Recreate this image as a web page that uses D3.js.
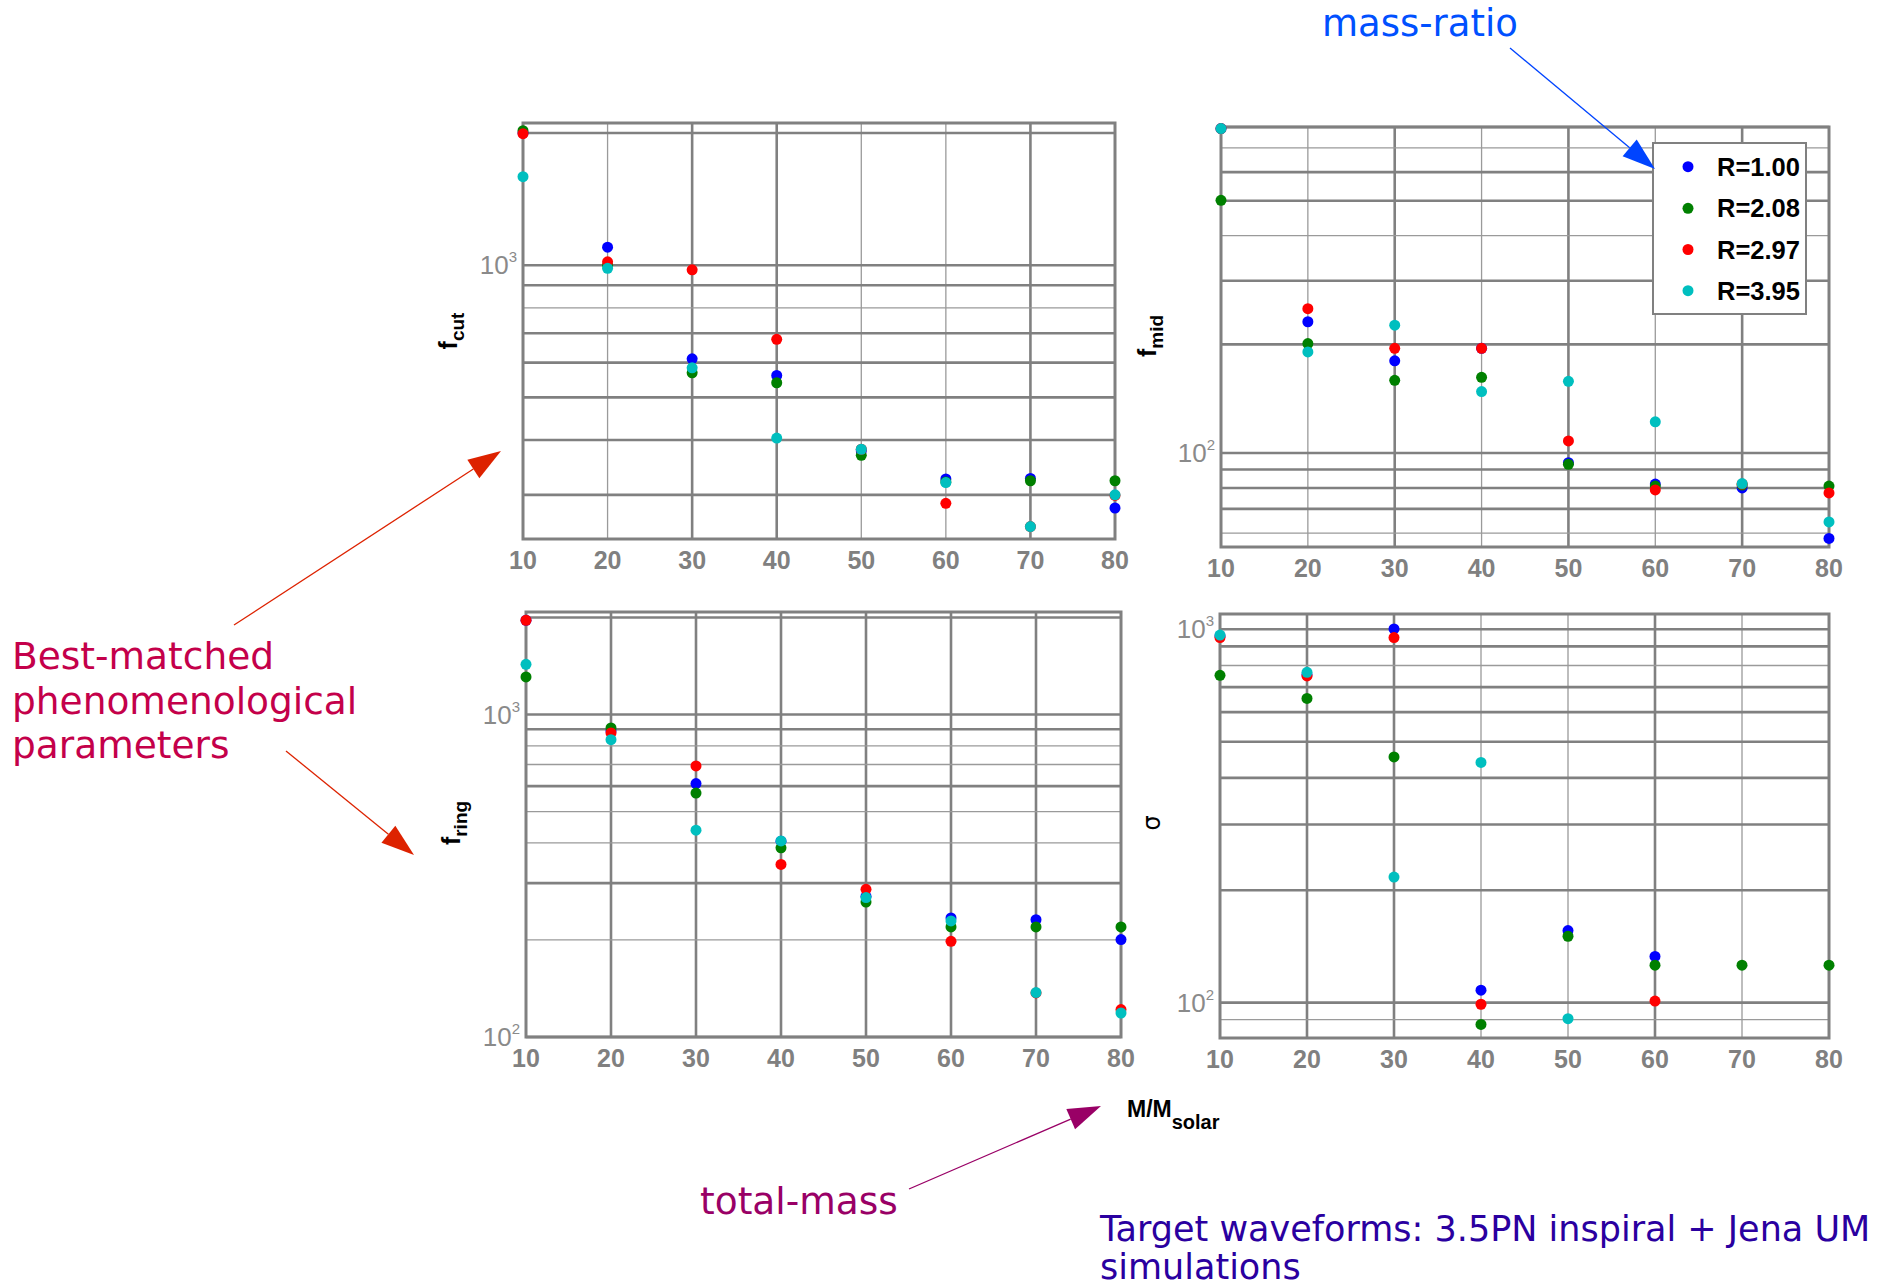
<!DOCTYPE html>
<html>
<head>
<meta charset="utf-8">
<script src="https://cdn.jsdelivr.net/npm/d3@7"></script>
<style>
  html, body { margin: 0; padding: 0; background: #ffffff; }
  svg { display: block; }
</style>
</head>
<body>
<svg id="chart" width="1884" height="1286"></svg>
<script>
// ---------------- DATA ----------------
const masses = [10, 20, 30, 40, 50, 60, 70, 80];
const xTickLabels = ["10", "20", "30", "40", "50", "60", "70", "80"];
const seriesNames = ["R=1.00", "R=2.08", "R=2.97", "R=3.95"];

// f_cut
const fcutR100 = [2000, 1099, 612, 561, 378, 326, 327, 280];
const fcutR208 = [2025, 1000, 569, 540, 369, 321, 323, 323];
const fcutR297 = [1993, 1018, 976, 678, 381, 287, 254, 299];
const fcutR395 = [1591, 984, 584, 404, 381, 320, 254, 300];

// f_mid
const fmidR100 = [792, 231, 180, 195, 94, 82, 80, 58];
const fmidR208 = [501, 201, 159, 162, 93, 81, 81.5, 81];
const fmidR297 = [792, 251, 195, 195, 108, 79, 82, 77.5];
const fmidR395 = [792, 190.5, 226, 148, 158, 122, 82.3, 64.4];

// f_ring
const fringR100 = [1961, 890, 611, 405, 273, 234, 231, 200.5];
const fringR208 = [1308, 909, 571, 386, 262, 219.5, 219.5, 219.5];
const fringR297 = [1961, 877, 693, 343, 287, 198, 137, 121.6];
const fringR395 = [1432, 836, 438, 405.5, 270.6, 229, 137.3, 118.7];

// sigma
const sigmaR100 = [960, 755, 1002, 108, 156, 133, null, null];
const sigmaR208 = [753, 653, 455, 87.4, 150.6, 126, 126, 126];
const sigmaR297 = [950, 750, 950, 99, null, 101, null, null];
const sigmaR395 = [965, 767, 217, 440, 90.6, null, null, null];

// y-axis ranges (log) and decade labels
const fcutRange = [238, 2108];
const fmidRange = [54.9, 800];
const fringRange = [100, 2080];
const sigmaRange = [80.4, 1099];
const fcutDecades = [1000];
const fmidDecades = [100];
const fringDecades = [100, 1000];
const sigmaDecades = [100, 1000];

// ---------------- DRAWING ----------------
const colors = ["#0000ff", "#008000", "#ff0000", "#00bfbf"];
const svg = d3.select("#chart");
const gridCol = "#808080";
const tickFont = "'Liberation Sans', Arial, sans-serif";

const panels = [
  { box: [523, 1115, 123, 539], range: fcutRange, decades: fcutDecades,
    series: [fcutR100, fcutR208, fcutR297, fcutR395],
    thickX: [30, 40, 70], thinY: [800],
    title: "f", sub: "cut", titleX: 457, titleY: 331 },
  { box: [1221, 1829, 127, 547], range: fmidRange, decades: fmidDecades,
    series: [fmidR100, fmidR208, fmidR297, fmidR395],
    thickX: [30, 50, 70], thinY: [700, 400, 60],
    title: "f", sub: "mid", titleX: 1156, titleY: 336 },
  { box: [526, 1121, 612, 1037], range: fringRange, decades: fringDecades,
    series: [fringR100, fringR208, fringR297, fringR395],
    thickX: [20, 30, 40, 50, 60, 70], thinY: [800, 700, 500, 400, 200],
    title: "f", sub: "ring", titleX: 460, titleY: 823 },
  { box: [1220, 1829, 614, 1038], range: sigmaRange, decades: sigmaDecades,
    series: [sigmaR100, sigmaR208, sigmaR297, sigmaR395],
    thickX: [20, 30, 60], thinY: [800, 90],
    title: "σ", sub: null, titleX: 1160, titleY: 823 }
];

panels.forEach(p => {
  const [L, R, T, B] = p.box;
  const x = d3.scaleLinear().domain([masses[0], masses[masses.length - 1]]).range([L, R]);
  const y = d3.scaleLog().domain(p.range).range([B, T]);
  const g = svg.append("g");

  // vertical grid
  masses.forEach(m => {
    if (m === masses[0] || m === masses[masses.length - 1]) return;
    const thick = p.thickX.includes(m);
    g.append("line")
      .attr("x1", x(m)).attr("x2", x(m)).attr("y1", T).attr("y2", B)
      .attr("stroke", thick ? gridCol : "#9a9a9a")
      .attr("stroke-width", thick ? 2.6 : 1.3);
  });
  // horizontal grid
  y.ticks().forEach(v => {
    if (y(v) < T - 0.5 || y(v) > B + 0.5) return;
    const thin = p.thinY.some(t => Math.abs(t - v) < 1e-6);
    g.append("line")
      .attr("x1", L).attr("x2", R).attr("y1", y(v)).attr("y2", y(v))
      .attr("stroke", thin ? "#9a9a9a" : gridCol)
      .attr("stroke-width", thin ? 1.3 : 2.6);
  });
  // frame
  g.append("rect").attr("x", L).attr("y", T).attr("width", R - L).attr("height", B - T)
    .attr("fill", "none").attr("stroke", gridCol).attr("stroke-width", 3);

  // x tick labels
  masses.forEach((m, i) => {
    g.append("text").attr("x", x(m)).attr("y", B + 21)
      .attr("text-anchor", "middle").attr("dominant-baseline", "central")
      .attr("font-family", tickFont).attr("font-weight", "bold")
      .attr("font-size", 25).attr("fill", "#808080")
      .text(xTickLabels[i]);
  });

  // y decade labels
  p.decades.forEach(d => {
    const t = g.append("text").attr("x", L - 6).attr("y", y(d) + 9)
      .attr("text-anchor", "end")
      .attr("font-family", tickFont).attr("font-size", 26).attr("fill", "#8a8a8a");
    t.append("tspan").text("10");
    t.append("tspan").attr("dy", -12).attr("font-size", 15).text(String(Math.round(Math.log10(d))));
  });

  // points
  p.series.forEach((vals, si) => {
    g.append("g").selectAll("circle")
      .data(vals.map((v, i) => ({ m: masses[i], v })).filter(d => d.v != null))
      .join("circle")
      .attr("cx", d => x(d.m)).attr("cy", d => y(d.v))
      .attr("r", 5.5).attr("fill", colors[si]);
  });

  // y title
  const tt = svg.append("text")
    .attr("transform", `translate(${p.titleX},${p.titleY}) rotate(-90)`)
    .attr("text-anchor", "middle")
    .attr("font-family", tickFont).attr("fill", "#000");
  if (p.sub) {
    tt.attr("font-weight", "bold").attr("font-size", 25);
    tt.append("tspan").text(p.title);
    tt.append("tspan").attr("dy", 7).attr("font-size", 19).text(p.sub);
  } else {
    tt.attr("font-size", 24).attr("font-family", "'DejaVu Sans', sans-serif").text(p.title);
  }
});

// legend (inside f_mid panel)
const lg = svg.append("g");
lg.append("rect").attr("x", 1653).attr("y", 143).attr("width", 153).attr("height", 171)
  .attr("fill", "#ffffff").attr("stroke", "#808080").attr("stroke-width", 2);
const legY = [166.7, 208.3, 249.5, 290.7];
seriesNames.forEach((n, i) => {
  lg.append("circle").attr("cx", 1688).attr("cy", legY[i]).attr("r", 5.5).attr("fill", colors[i]);
  lg.append("text").attr("x", 1717).attr("y", legY[i]).attr("dominant-baseline", "central")
    .attr("font-family", tickFont).attr("font-weight", "bold").attr("font-size", 25.5)
    .attr("fill", "#000").text(n);
});

// x axis title M/M_solar
const xt = svg.append("text").attr("x", 1127).attr("y", 1117)
  .attr("font-family", tickFont).attr("font-weight", "bold").attr("font-size", 23).attr("fill", "#000");
xt.append("tspan").text("M/M");
xt.append("tspan").attr("dy", 12).attr("font-size", 20).text("solar");

// annotations
const annFont = "'DejaVu Sans', sans-serif";
function arrow(x1, y1, x2, y2, col) {
  const ang = Math.atan2(y2 - y1, x2 - x1);
  const len = 33, hw = 11;
  const bx = x2 - len * Math.cos(ang), by = y2 - len * Math.sin(ang);
  const px = -Math.sin(ang) * hw, py = Math.cos(ang) * hw;
  svg.append("line").attr("x1", x1).attr("y1", y1).attr("x2", bx).attr("y2", by)
    .attr("stroke", col).attr("stroke-width", 1.3);
  svg.append("polygon")
    .attr("points", `${x2},${y2} ${bx + px},${by + py} ${bx - px},${by - py}`)
    .attr("fill", col);
}

svg.append("text").attr("x", 1322).attr("y", 36).attr("font-family", annFont)
  .attr("font-size", 37).attr("fill", "#0050ff").text("mass-ratio");
arrow(1510, 48, 1655, 169, "#0044ff");

const bm = ["Best-matched", "phenomenological", "parameters"];
bm.forEach((s, i) => {
  svg.append("text").attr("x", 12).attr("y", 669 + i * 44.5).attr("font-family", annFont)
    .attr("font-size", 37.5).attr("fill", "#c4004a").text(s);
});
arrow(234, 625, 501, 451, "#dd2200");
arrow(286, 751, 414, 855, "#dd2200");

svg.append("text").attr("x", 700).attr("y", 1214).attr("font-family", annFont)
  .attr("font-size", 37.5).attr("fill", "#990066").text("total-mass");
arrow(909, 1189, 1101, 1106, "#990066");

const tw = ["Target waveforms: 3.5PN inspiral + Jena UM", "simulations"];
tw.forEach((s, i) => {
  svg.append("text").attr("x", 1100).attr("y", 1241 + i * 37.5).attr("font-family", annFont)
    .attr("font-size", 35).attr("fill", "#2a00a0").text(s);
});
</script>
</body>
</html>
